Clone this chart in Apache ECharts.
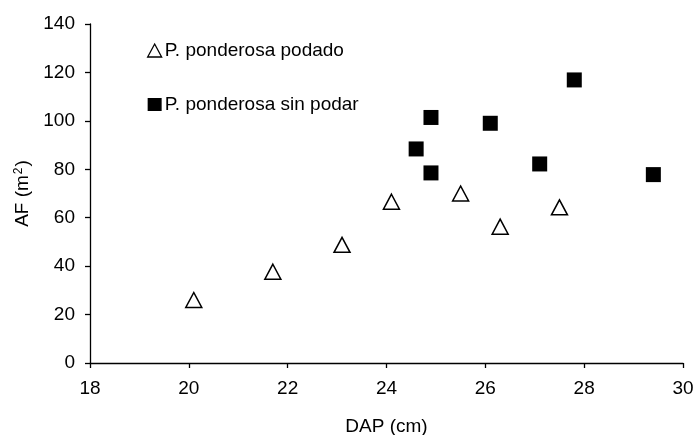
<!DOCTYPE html>
<html>
<head>
<meta charset="utf-8">
<script src="https://cdn.jsdelivr.net/npm/echarts@6/dist/echarts.min.js"></script>
<style>
html,body{margin:0;padding:0;background:#fff;}
#chart{width:695px;height:435px;}
</style>
</head>
<body>
<div id="chart"></div>
<script>
var seriesNames = ['P. ponderosa podado', 'P. ponderosa sin podar'];
var podadoDAP = [20.1, 21.7, 23.1, 24.1, 25.5, 26.3, 27.5];
var podadoAF  = [26, 37.7, 48.8, 66.6, 70, 56.3, 64.3];
var sinPodarDAP = [24.6, 24.9, 24.9, 26.1, 27.8, 27.1, 29.4];
var sinPodarAF  = [88.4, 101.4, 78.5, 99, 116.9, 82.2, 77.8];
var xTicks = [18, 20, 22, 24, 26, 28, 30];
var yTicks = [0, 20, 40, 60, 80, 100, 120, 140];

function pairs(xs, ys) { return xs.map(function (x, i) { return [x, ys[i]]; }); }

var font = 'Liberation Sans, Arial, sans-serif';
var chart = echarts.init(document.getElementById('chart'), null, {renderer: 'canvas'});
chart.setOption({
  animation: false,
  backgroundColor: '#fff',
  grid: {left: 90, right: 12, top: 24, bottom: 72, containLabel: false, outerBoundsMode: 'none'},
  legend: {
    orient: 'vertical',
    left: 142,
    top: 36,
    itemGap: 35,
    itemWidth: 14,
    itemHeight: 13,
    textStyle: {fontFamily: font, fontSize: 19, color: '#000', padding: [0, 0, 0, -2]},
    data: [
      {name: seriesNames[0], icon: 'triangle', itemStyle: {color: '#fff', borderColor: '#000', borderWidth: 1.3}},
      {name: seriesNames[1], icon: 'rect', itemStyle: {color: '#000'}}
    ]
  },
  xAxis: {
    type: 'value', min: 18, max: 30, interval: 2,
    name: 'DAP (cm)', nameLocation: 'middle', nameGap: 54,
    nameTextStyle: {fontFamily: font, fontSize: 19, color: '#000'},
    axisLine: {show: true, onZero: false, lineStyle: {color: '#000', width: 1.3}},
    axisTick: {show: true, inside: false, length: 5, lineStyle: {color: '#000', width: 1.3}},
    axisLabel: {fontFamily: font, fontSize: 19, color: '#000', margin: 16,
      formatter: function (v) { return xTicks.indexOf(v) >= 0 ? String(v) : ''; }},
    splitLine: {show: false}
  },
  yAxis: {
    type: 'value', min: 0, max: 140, interval: 20,
    name: 'AF (m{sup|2})', nameLocation: 'middle', nameGap: 54, nameRotate: 90,
    nameTextStyle: {fontFamily: font, fontSize: 19, color: '#000',
      rich: {sup: {fontFamily: font, fontSize: 12, color: '#000', verticalAlign: 'top', padding: [0, 1, 9, 1]}}},
    axisLine: {show: true, onZero: false, lineStyle: {color: '#000', width: 1.3}},
    axisTick: {show: true, inside: false, length: 5, lineStyle: {color: '#000', width: 1.3}},
    axisLabel: {fontFamily: font, fontSize: 19, color: '#000', margin: 15,
      formatter: function (v) { return yTicks.indexOf(v) >= 0 ? String(v) : ''; }},
    splitLine: {show: false}
  },
  series: [
    {
      name: seriesNames[0], type: 'scatter', symbol: 'triangle', symbolSize: [16, 15],
      itemStyle: {color: '#fff', borderColor: '#000', borderWidth: 1.5, opacity: 1},
      data: pairs(podadoDAP, podadoAF), z: 3
    },
    {
      name: seriesNames[1], type: 'scatter', symbol: 'rect', symbolSize: 15,
      itemStyle: {color: '#000', opacity: 1},
      data: pairs(sinPodarDAP, sinPodarAF), z: 2
    }
  ]
});
</script>
</body>
</html>
